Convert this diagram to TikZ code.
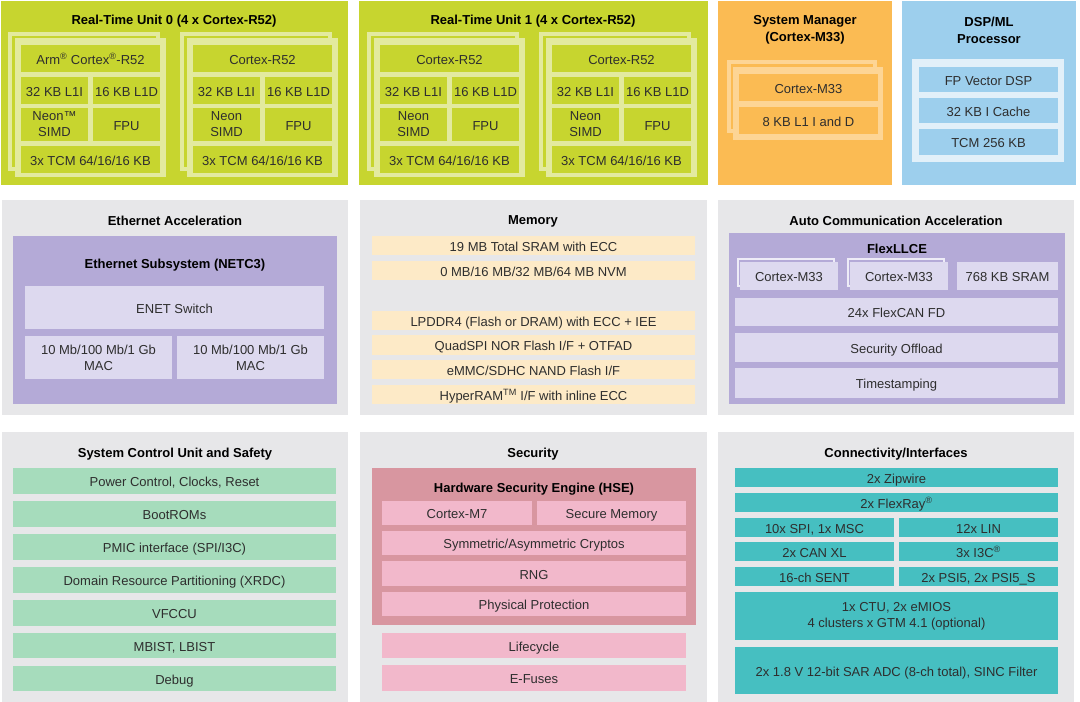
\documentclass[tikz,border=0pt]{standalone}
\usepackage{fontspec}
\setmainfont{Liberation Sans}
\definecolor{rtugreen}{HTML}{C7D52F}
\definecolor{rtupale}{HTML}{E3EA9F}
\definecolor{smorange}{HTML}{FBBB53}
\definecolor{smpale}{HTML}{FDD595}
\definecolor{dspblue}{HTML}{9DCFED}
\definecolor{dsppale}{HTML}{E2F0F9}
\definecolor{panelgray}{HTML}{E7E7E9}
\definecolor{purp}{HTML}{B4AAD7}
\definecolor{lilac}{HTML}{DDD9EF}
\definecolor{lilacpale}{HTML}{EEECF7}
\definecolor{peach}{HTML}{FDEAC7}
\definecolor{mint}{HTML}{A6DCBC}
\definecolor{hse}{HTML}{D896A0}
\definecolor{pinkbox}{HTML}{F2B8CB}
\definecolor{teal}{HTML}{46BFC1}
\definecolor{txt}{HTML}{2E2E2E}
\tikzset{
  bxbase/.style={inner sep=0pt, outer sep=0pt, align=center, text=txt,
    font=\fontsize{13}{16}\selectfont},
  bx/.style={bxbase, text height=11pt, text depth=0pt},
  bxm/.style={bxbase, execute at begin node={\rule{0pt}{13pt}}},
  ttl/.style={inner sep=0pt, align=center, text=black,
    font=\fontsize{13}{17}\selectfont\bfseries, text height=11pt, text depth=0pt},
  ttlm/.style={inner sep=0pt, align=center, text=black,
    font=\fontsize{13}{17}\selectfont\bfseries}
}
% \bx[style]{name}{x1}{y1}{x2}{y2}{fill}{text}
\newcommand{\bx}[8][bx]{\node[#1, fill=#7, minimum width={((#5)-(#3))*1pt},
  minimum height={((#6)-(#4))*1pt}] (#2) at ({((#3)+(#5))/2},{((#4)+(#6))/2}) {#8};}
% \rcard{prefix}{x}{top label}{neon label}
\newcommand{\rcard}[4]{%
  \draw[draw=rtupale, line width=4pt, fill=rtugreen] ({#2-5},34) rectangle ({#2+143},169);
  \bx{#1f}{#2}{38}{#2+151}{177}{rtupale}{}
  \bx{#1a}{#2+6}{45}{#2+145}{72}{rtugreen}{#3}
  \bx{#1b}{#2+6}{77}{#2+73}{104}{rtugreen}{32 KB L1I}
  \bx{#1c}{#2+78}{77}{#2+145}{104}{rtugreen}{16 KB L1D}
  \bx[bxm]{#1d}{#2+6}{108}{#2+73}{141}{rtugreen}{#4}
  \bx{#1e}{#2+78}{108}{#2+145}{141}{rtugreen}{FPU}
  \bx{#1g}{#2+6}{146}{#2+145}{173}{rtugreen}{3x TCM 64/16/16 KB}
}
\begin{document}
\begin{tikzpicture}[x=1pt, y=-1pt]
\useasboundingbox (0,0) rectangle (1080,702);
\fill[white] (0,0) rectangle (1080,702);
% ---------- panels ----------
\bx{rtu0}{1}{1}{348}{185}{rtugreen}{}
\bx{rtu1}{359}{1}{708}{185}{rtugreen}{}
\bx{sm}{718}{1}{892}{185}{smorange}{}
\bx{dsp}{902}{1}{1076}{185}{dspblue}{}
\bx{eth}{2}{200}{348}{415}{panelgray}{}
\bx{mem}{360}{200}{707}{415}{panelgray}{}
\bx{acc}{718}{200}{1074}{415}{panelgray}{}
\bx{scu}{2}{432}{348}{702}{panelgray}{}
\bx{sec}{360}{432}{707}{702}{panelgray}{}
\bx{con}{718}{432}{1074}{702}{panelgray}{}
% ---------- RTU 0 / 1 ----------
\node[ttl] (t0) at (174,19) {Real-Time Unit 0 (4 x Cortex-R52)};
\node[ttl] (t1) at (533,19) {Real-Time Unit 1 (4 x Cortex-R52)};
\rcard{ca}{15}{Arm\textsuperscript{®} Cortex\textsuperscript{®}-R52}{Neon™\\SIMD}
\rcard{cb}{187}{Cortex-R52}{Neon\\SIMD}
\rcard{cc}{374}{Cortex-R52}{Neon\\SIMD}
\rcard{cd}{546}{Cortex-R52}{Neon\\SIMD}
% ---------- System Manager ----------
\node[ttlm] (tsm) at (805,30) {System Manager\\(Cortex-M33)};
\draw[draw=smpale, line width=4pt, fill=smorange] (729,62) rectangle (875,131);
\bx{smf}{733}{67}{883}{140}{smpale}{}
\bx{sma}{739}{74}{878}{101}{smorange}{Cortex-M33}
\bx{smb}{739}{107}{878}{134}{smorange}{8 KB L1 I and D}
% ---------- DSP ----------
\node[ttlm] (tdsp) at (989,30) {DSP/ML\\Processor};
\bx{dspf}{912}{59}{1064}{162}{dsppale}{}
\bx{dspa}{919}{67}{1058}{92}{dspblue}{FP Vector DSP}
\bx{dspb}{919}{98}{1058}{123}{dspblue}{32 KB I Cache}
\bx{dspc}{919}{129}{1058}{155}{dspblue}{TCM 256 KB}
% ---------- Ethernet ----------
\node[ttl] (teth) at (175,220) {Ethernet Acceleration};
\bx{netc}{13}{236}{337}{404}{purp}{}
\node[ttl] (tnetc) at (175,263) {Ethernet Subsystem (NETC3)};
\bx{enet}{25}{286}{324}{329}{lilac}{ENET Switch}
\bx[bxm]{mac1}{25}{336}{172}{379}{lilac}{10 Mb/100 Mb/1 Gb\\MAC}
\bx[bxm]{mac2}{177}{336}{324}{379}{lilac}{10 Mb/100 Mb/1 Gb\\MAC}
% ---------- Memory ----------
\node[ttl] (tmem) at (533,219) {Memory};
\bx{m1}{372}{236}{695}{255}{peach}{19 MB Total SRAM with ECC}
\bx{m2}{372}{261}{695}{280}{peach}{0 MB/16 MB/32 MB/64 MB NVM}
\bx{m3}{372}{311}{695}{330}{peach}{LPDDR4 (Flash or DRAM) with ECC + IEE}
\bx{m4}{372}{335}{695}{355}{peach}{QuadSPI NOR Flash I/F + OTFAD}
\bx{m5}{372}{360}{695}{379}{peach}{eMMC/SDHC NAND Flash I/F}
\bx{m6}{372}{385}{695}{404}{peach}{HyperRAM\textsuperscript{TM} I/F with inline ECC}
% ---------- Auto Communication ----------
\node[ttl] (tacc) at (896,220) {Auto Communication Acceleration};
\bx{llce}{729}{233}{1065}{404}{purp}{}
\node[ttl] (tllce) at (897,248) {FlexLLCE};
\draw[draw=lilacpale, line width=2pt, fill=purp] (738,259) rectangle (834,286);
\draw[draw=lilacpale, line width=2pt, fill=purp] (848,259) rectangle (944,286);
\bx{lc1}{740}{262}{838}{290}{lilac}{Cortex-M33}
\bx{lc2}{850}{262}{948}{290}{lilac}{Cortex-M33}
\bx{lc3}{957}{262}{1058}{290}{lilac}{768 KB SRAM}
\bx{lc4}{735}{298}{1058}{326}{lilac}{24x FlexCAN FD}
\bx{lc5}{735}{333}{1058}{362}{lilac}{Security Offload}
\bx{lc6}{735}{368}{1058}{398}{lilac}{Timestamping}
% ---------- System Control ----------
\node[ttl] (tscu) at (175,452) {System Control Unit and Safety};
\bx{s1}{13}{468}{336}{494}{mint}{Power Control, Clocks, Reset}
\bx{s2}{13}{501}{336}{527}{mint}{BootROMs}
\bx{s3}{13}{534}{336}{560}{mint}{PMIC interface (SPI/I3C)}
\bx{s4}{13}{567}{336}{593}{mint}{Domain Resource Partitioning (XRDC)}
\bx{s5}{13}{600}{336}{626}{mint}{VFCCU}
\bx{s6}{13}{633}{336}{658}{mint}{MBIST, LBIST}
\bx{s7}{13}{666}{336}{691}{mint}{Debug}
% ---------- Security ----------
\node[ttl] (tsec) at (533,452) {Security};
\bx{hsebox}{372}{468}{696}{625}{hse}{}
\node[ttl] (thse) at (534,487) {Hardware Security Engine (HSE)};
\bx{h1}{382}{501}{532}{525}{pinkbox}{Cortex-M7}
\bx{h2}{537}{501}{686}{525}{pinkbox}{Secure Memory}
\bx{h3}{382}{531}{686}{555}{pinkbox}{Symmetric/Asymmetric Cryptos}
\bx{h4}{382}{561}{686}{586}{pinkbox}{RNG}
\bx{h5}{382}{592}{686}{616}{pinkbox}{Physical Protection}
\bx{h6}{382}{633}{686}{658}{pinkbox}{Lifecycle}
\bx{h7}{382}{665}{686}{691}{pinkbox}{E-Fuses}
% ---------- Connectivity ----------
\node[ttl] (tcon) at (896,452) {Connectivity/Interfaces};
\bx{c1}{735}{468}{1058}{487}{teal}{2x Zipwire}
\bx{c2}{735}{493}{1058}{512}{teal}{2x FlexRay\textsuperscript{®}}
\bx{c3}{735}{518}{894}{537}{teal}{10x SPI, 1x MSC}
\bx{c4}{899}{518}{1058}{537}{teal}{12x LIN}
\bx{c5}{735}{542}{894}{561}{teal}{2x CAN XL}
\bx{c6}{899}{542}{1058}{561}{teal}{3x I3C\textsuperscript{®}}
\bx{c7}{735}{567}{894}{586}{teal}{16-ch SENT}
\bx{c8}{899}{567}{1058}{586}{teal}{2x PSI5, 2x PSI5\_S}
\bx[bxm]{c9}{735}{592}{1058}{640}{teal}{1x CTU, 2x eMIOS\\4 clusters x GTM 4.1 (optional)}
\bx{c10}{735}{647}{1058}{694}{teal}{2x 1.8 V 12-bit SAR ADC (8-ch total), SINC Filter}
\end{tikzpicture}
\end{document}
